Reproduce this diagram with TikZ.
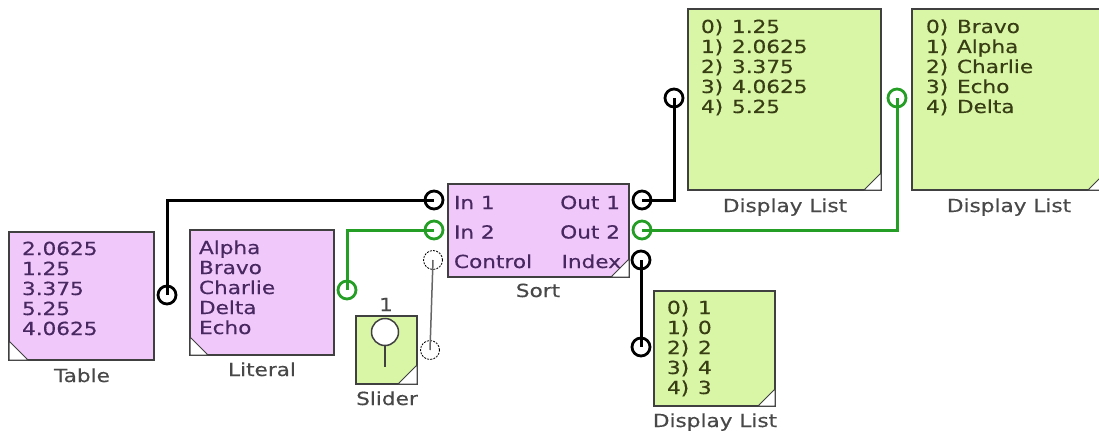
\documentclass[tikz,border=0pt]{standalone}
\usepackage{fontspec}
\newfontfamily\vfont[FakeStretch=1.2,FakeBold=0.4]{DejaVu Sans}
\definecolor{pinkfill}{RGB}{241,200,250}
\definecolor{greenfill}{RGB}{217,245,166}
\definecolor{edgec}{RGB}{64,64,64}
\definecolor{wiregrn}{RGB}{36,158,36}
\definecolor{pinktext}{RGB}{72,40,96}
\definecolor{greentext}{RGB}{56,62,20}
\definecolor{labeltext}{RGB}{72,72,72}
\newcommand\boxlines[1]{\vtop{\baselineskip=20pt\lineskiplimit=-50pt\lineskip=0pt #1}}
\newcommand\dlline[2]{\hbox{\makebox[31pt][l]{#1)}#2}}
\begin{document}
\begin{tikzpicture}[x=1pt,y=-1pt,
  every node/.style={font=\vfont\fontsize{18}{20}\selectfont, inner sep=0pt, outer sep=0pt},
  pinkbox/.style={draw=edgec, line width=1.5pt, fill=pinkfill, anchor=north west, rectangle},
  greenbox/.style={draw=edgec, line width=1.5pt, fill=greenfill, anchor=north west, rectangle},
  corner/.style={draw=edgec, line width=1pt, fill=white},
  portblk/.style={circle, draw=black, line width=2.8pt, fill=white, minimum size=18pt},
  portgrn/.style={circle, draw=wiregrn, line width=2.8pt, fill=white, minimum size=18pt},
  portdot/.style={circle, draw=black, line width=0.8pt, dash pattern=on 2pt off 1.2pt, fill=white, minimum size=19pt},
  wireblk/.style={draw=black, line width=3pt},
  wiregreen/.style={draw=wiregrn, line width=3pt},
  wiregray/.style={draw=edgec!80, line width=1.5pt},
  lbl/.style={anchor=base, text=labeltext},
  pinktxt/.style={anchor=base west, text=pinktext},
  greentxt/.style={anchor=base west, text=greentext}
]
\useasboundingbox (0,0) rectangle (1099,433);
\fill[white] (0,0) rectangle (1099,433);

% boxes
\node[pinkbox, minimum width=145pt, minimum height=128pt] (table) at (9,232) {};
\node[pinkbox, minimum width=144pt, minimum height=125pt] (literal) at (190,230) {};
\node[pinkbox, minimum width=181pt, minimum height=93pt] (sort) at (448,184) {};
\node[greenbox, minimum width=61pt, minimum height=68pt] (slider) at (356,316) {};
\node[greenbox, minimum width=193pt, minimum height=181pt] (dlA) at (688,9) {};
\node[greenbox, minimum width=193pt, minimum height=181pt] (dlB) at (912,9) {};
\node[greenbox, minimum width=121pt, minimum height=115pt] (dlC) at (654,291) {};

% corner marks
\draw[corner] (table.south west) -- ++(19,0) -- ++(-19,-19) -- cycle;
\draw[corner] (literal.south west) -- ++(18,0) -- ++(-18,-18) -- cycle;
\draw[corner] (sort.south east) -- ++(-18,0) -- ++(18,-18) -- cycle;
\draw[corner] (slider.south east) -- ++(-19,0) -- ++(19,-19) -- cycle;
\draw[corner] (dlA.south east) -- ++(-17,0) -- ++(17,-17) -- cycle;
\draw[corner] (dlB.south east) -- ++(-17,0) -- ++(17,-17) -- cycle;
\draw[corner] (dlC.south east) -- ++(-17,0) -- ++(17,-17) -- cycle;

% box contents
\node[pinktxt] (tabletxt) at (22,255) {\boxlines{\hbox{2.0625}\hbox{1.25}\hbox{3.375}\hbox{5.25}\hbox{4.0625}}};
\node[pinktxt] (literaltxt) at (199,254) {\boxlines{\hbox{Alpha}\hbox{Bravo}\hbox{Charlie}\hbox{Delta}\hbox{Echo}}};
\node[greentxt] (dlAtxt) at (701,33) {\boxlines{\dlline{0}{1.25}\dlline{1}{2.0625}\dlline{2}{3.375}\dlline{3}{4.0625}\dlline{4}{5.25}}};
\node[greentxt] (dlBtxt) at (926,33) {\boxlines{\dlline{0}{Bravo}\dlline{1}{Alpha}\dlline{2}{Charlie}\dlline{3}{Echo}\dlline{4}{Delta}}};
\node[greentxt] (dlCtxt) at (667,314) {\boxlines{\dlline{0}{1}\dlline{1}{0}\dlline{2}{2}\dlline{3}{4}\dlline{4}{3}}};
\node[pinktxt] (in1txt) at (454,209) {In 1};
\node[pinktxt] (in2txt) at (454,238.5) {In 2};
\node[pinktxt] (ctltxt) at (454,268) {Control};
\node[pinktxt, anchor=base east] (out1txt) at (620,209) {Out 1};
\node[pinktxt, anchor=base east] (out2txt) at (620,238.5) {Out 2};
\node[pinktxt, anchor=base east] (idxtxt) at (621,268) {Index};

% slider knob
\node[circle, draw=edgec, line width=1.5pt, fill=white, minimum size=27pt] (knob) at (385,332) {};
\coordinate (stemend) at (385,367);
\draw[edgec, line width=2pt] (knob.south) -- (stemend);

% labels
\node[lbl] (tablelbl) at (82,382) {Table};
\node[lbl] (literallbl) at (262,376) {Literal};
\node[lbl] (sortlbl) at (538,297) {Sort};
\node[lbl] (sliderlbl) at (387,405) {Slider};
\node[lbl] (sliderval) at (386,311) {1};
\node[lbl] (dlAlbl) at (785,212) {Display List};
\node[lbl] (dlBlbl) at (1009,212) {Display List};
\node[lbl] (dlClbl) at (715,427) {Display List};

% ports
\node[portblk] (tabout) at (167,295) {};
\node[portgrn] (litout) at (347,290) {};
\node[portblk] (in1) at (434,200) {};
\node[portgrn] (in2) at (434,230) {};
\node[portdot] (ctl) at (433,260) {};
\node[portblk] (out1) at (642,200) {};
\node[portgrn] (out2) at (642,230) {};
\node[portblk] (idx) at (641,260) {};
\node[portblk] (dAin) at (674,98) {};
\node[portgrn] (dBin) at (897,98) {};
\node[portblk] (dCin) at (641,347) {};
\node[portdot] (slout) at (430,350) {};

% wires
\draw[wireblk] (tabout.center) |- (in1.center);
\draw[wiregreen] (litout.center) |- (in2.center);
\draw[wireblk] (out1.center) -| (dAin.center);
\draw[wiregreen] (out2.center) -| (dBin.center);
\draw[wireblk] (idx.center) -- (dCin.center);
\draw[wiregray] (ctl.center) -- (slout.center);
\end{tikzpicture}
\end{document}
